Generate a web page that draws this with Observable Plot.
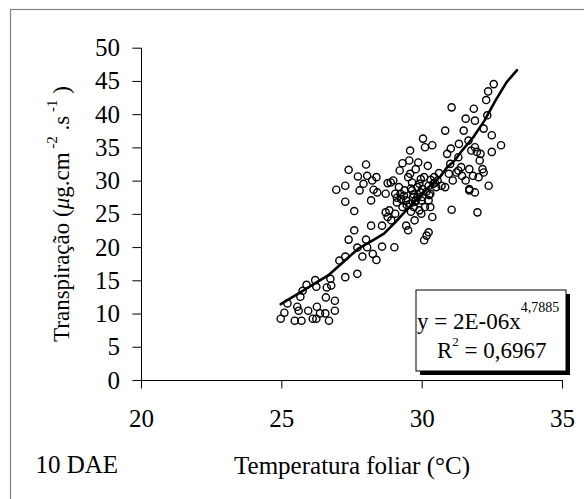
<!DOCTYPE html>
<html>
<head>
<meta charset="utf-8">
<script src="https://cdn.jsdelivr.net/npm/d3@7"></script>
<script src="https://cdn.jsdelivr.net/npm/@observablehq/plot@0.6"></script>
<style>
  html, body { margin: 0; padding: 0; background: #fff; }
  svg text { font-family: "Liberation Serif", "Times New Roman", serif !important; }
</style>
</head>
<body>
<div id="chart"></div>
<script>
// Observed data: leaf temperature (°C) and transpiration (µg.cm-2.s-1)
const tempX = [
  24.96,25.09,25.2,25.46,25.55,25.6,25.66,25.7,25.74,25.88,25.94,26.1,26.19,26.23,26.23,26.25,26.36,26.55,26.57,26.6,26.68,26.73,26.76,26.89,26.89,
  27.05,27.26,27.26,27.38,27.58,27.69,27.69,27.87,28.0,28.04,28.18,28.24,28.37,28.57,28.57,29.01,28.77,28.7,
  26.94,27.26,27.26,27.38,27.58,27.71,27.77,27.91,28.0,28.04,28.18,28.22,28.27,28.37,28.4,
  28.7,28.77,28.88,28.97,28.83,28.9,29.04,29.1,29.2,29.3,29.37,29.43,29.43,29.5,29.54,29.57,29.57,29.64,29.68,29.7,29.73,29.77,29.83,29.86,29.94,29.97,
  30.03,30.07,30.1,30.07,30.16,30.23,30.23,30.2,30.29,30.36,30.36,30.43,30.5,30.1,30.23,29.83,29.9,29.57,29.3,29.23,29.17,29.04,29.5,29.64,29.77,29.97,30.29,
  30.69,30.82,30.82,30.89,30.95,31.02,31.05,31.05,31.09,31.22,31.29,31.31,31.39,31.42,31.48,31.55,31.55,31.65,31.68,31.68,31.75,31.81,31.84,31.88,31.88,31.88,
  31.95,31.97,32.01,32.05,32.08,32.15,32.19,32.19,32.28,32.32,32.35,32.37,32.48,32.48,32.55,32.81,31.68,31.29,
  29.35,29.45,29.6,29.75,29.9,30.0,30.15,30.3,30.45,30.6,29.25,29.7,29.95,30.25,30.55,29.1,29.6,30.0,30.4,31.0
];
const transpY = [
  9.3,10.2,11.6,9.0,11.1,10.5,12.6,9.0,13.5,14.4,10.5,9.3,15.1,14.1,9.3,11.1,10.1,10.1,12.5,14.0,9.0,15.3,14.3,12.0,10.5,
  18.05,18.65,15.55,21.2,22.6,16.05,20.0,18.65,21.2,20.05,23.3,19.05,18.15,20.15,23.3,20.05,24.6,25.3,
  28.7,29.3,26.9,31.7,25.5,30.7,28.6,29.6,32.5,30.8,27.1,30.1,28.7,30.6,28.3,
  28.1,29.7,29.8,30.1,25.6,24.1,28.1,26.8,31.6,32.7,28.6,27.1,23.3,22.6,33.1,34.6,31.1,29.8,27.6,26.1,24.1,31.8,29.1,32.8,28.3,27.1,
  36.4,30.6,35.1,21.1,21.8,22.3,29.3,32.3,28.1,35.4,24.6,30.6,29.1,26.1,27.1,27.6,25.6,26.6,26.1,28.1,29.1,25.1,30.6,28.6,27.1,25.1,26.1,
  29.3,29.1,37.6,34.1,31.1,34.9,41.1,25.7,30.1,31.3,33.6,35.6,32.1,30.8,37.6,39.4,30.1,36.1,31.8,28.8,34.6,30.8,40.9,39.1,35.1,28.3,
  34.4,25.3,30.6,33.1,34.1,31.8,37.9,31.3,42.2,39.9,43.5,29.3,36.9,34.4,44.6,35.4,28.6,31.6,
  27.8,26.4,28.9,26.9,29.6,27.6,28.4,30.2,29.8,31.2,27.3,28.0,30.3,27.9,30.1,27.5,25.4,28.8,29.6,32.6
];
// Power trendline as drawn in the chart (traced vertices)
const fitX = [24.96,25.6,26.25,26.65,27.18,27.71,28.24,28.64,29.04,29.43,29.83,30.23,30.63,30.89,31.16,31.42,31.82,32.22,32.61,33.01,33.38];
const fitY = [11.5,13.1,14.8,15.8,17.8,19.8,21.1,22.1,23.8,25.6,27.3,29.1,30.6,32.1,33.1,34.6,36.6,39.1,42.1,44.9,46.7];

const xTicks = [20, 25, 30, 35];
const yTicks = [0, 5, 10, 15, 20, 25, 30, 35, 40, 45, 50];
const xTitle = "Temperatura foliar (°C)";
const panelLabel = "10 DAE";
const eqMain = "y = 2E-06x";
const eqExp = "4,7885";
const r2Value = " = 0,6967";

const points = tempX.map((x, i) => ({x, y: transpY[i]}));
const fit = fitX.map((x, i) => ({x, y: fitY[i]}));

const serif = "Liberation Serif, Times New Roman, serif";

const svg = Plot.plot({
  width: 584,
  height: 499,
  marginLeft: 141,
  marginRight: 22,
  marginTop: 47.7,
  marginBottom: 119,
  style: {fontFamily: serif, fontSize: "26px", color: "#000", background: "#fff"},
  x: {domain: [20, 35]},
  y: {domain: [0, 50]},
  marks: [
    Plot.axisY({ticks: yTicks, tickSize: 8.6, tickPadding: 13, label: null, fontSize: 25}),
    Plot.axisX({ticks: xTicks, tickSize: 8.5, tickPadding: 20, label: null, fontSize: 25}),
    Plot.ruleX([20], {y1: 0, y2: 50, stroke: "#000"}),
    Plot.ruleY([0], {x1: 20, x2: 35, stroke: "#000"}),
    Plot.dot(points, {x: "x", y: "y", r: 3.6, stroke: "#000", strokeWidth: 1.4, fill: "none"}),
    Plot.line(fit, {x: "x", y: "y", stroke: "#000", strokeWidth: 2.6}),
    Plot.text([panelLabel], {frameAnchor: "bottom-left", dx: -106, dy: 92, text: d => d, fontSize: 25, textAnchor: "start", lineAnchor: "bottom"}),
    Plot.text([xTitle], {frameAnchor: "bottom", dy: 93, text: d => d, fontSize: 25, lineAnchor: "bottom"})
  ]
});

const s = d3.select(svg);
// outer chart frame
s.append("rect").attr("x", 10.5).attr("y", 9.5).attr("width", 700).attr("height", 700)
  .attr("fill", "none").attr("stroke", "#808080").attr("stroke-width", 1.2);

// y axis title with superscripts
const yt = s.append("text")
  .attr("transform", "translate(69,214) rotate(-90)")
  .attr("text-anchor", "middle")
  .attr("font-family", serif)
  .attr("font-size", 23)
  .attr("fill", "#000");
yt.append("tspan").text("Transpiração (");
yt.append("tspan").attr("font-style", "italic").text("μ");
yt.append("tspan").text("g.cm");
yt.append("tspan").attr("font-size", 15).attr("dy", -12).text(" -2");
yt.append("tspan").attr("dy", 12).text(" .s");
yt.append("tspan").attr("font-size", 15).attr("dy", -12).text(" -1");
yt.append("tspan").attr("dy", 12).text(" )");

// equation box
const bx = 416, by = 290, bw = 150, bh = 81;
s.append("rect").attr("x", bx + 4).attr("y", by + 4).attr("width", bw).attr("height", bh).attr("fill", "#000");
s.append("rect").attr("x", bx).attr("y", by).attr("width", bw).attr("height", bh)
  .attr("fill", "#fff").attr("stroke", "#000").attr("stroke-width", 1);
const t1 = s.append("text").attr("x", bx + 1).attr("y", by + 39).attr("text-anchor", "start")
  .attr("font-family", serif).attr("font-size", 23).attr("fill", "#000");
t1.append("tspan").text(eqMain);
t1.append("tspan").attr("font-size", 14).attr("dy", -17).text(eqExp);
const t2 = s.append("text").attr("x", bx + 21).attr("y", by + 68).attr("text-anchor", "start")
  .attr("font-family", serif).attr("font-size", 23).attr("fill", "#000");
t2.append("tspan").text("R");
t2.append("tspan").attr("font-size", 13).attr("dy", -12).text("2");
t2.append("tspan").attr("dy", 12).text(r2Value);

document.getElementById("chart").appendChild(svg);
</script>
</body>
</html>
